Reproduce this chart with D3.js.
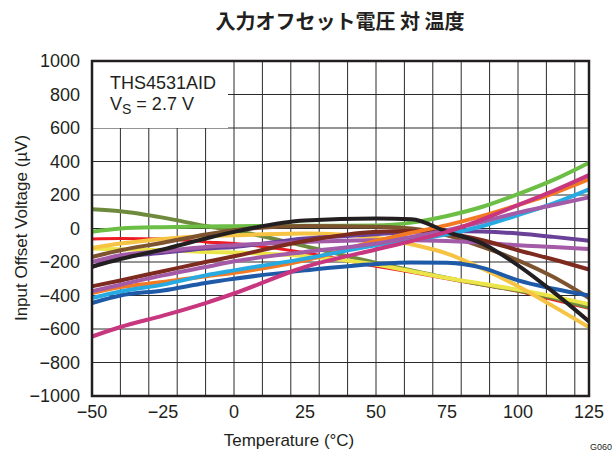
<!DOCTYPE html>
<html>
<head>
<meta charset="utf-8">
<script src="https://cdn.jsdelivr.net/npm/d3@7"></script>
<style>
  body { margin: 0; background: #fff; }
  svg text { font-family: 'Liberation Sans', Arial, sans-serif; fill: #231f20; }
</style>
</head>
<body>
<div id="chart"></div>
<script>
// temperature points (°C) shared by every curve
const temps = [-50, -40, -25, -10, 0, 25, 50, 62.5, 75, 87.5, 100, 112.5, 125];

// offset voltage (µV), one array per unit
const red        = [-62, -60, -62, -80, -90, -145, -225, -262, -300, -338, -375, -425, -477];
const olive      = [115, 103, 65, 15, -12, -105, -205, -250, -295, -335, -370, -415, -470];
const lightYellow = [-120, -124, -130, -140, -144, -165, -215, -255, -295, -330, -365, -405, -452];
const green      = [-20, 0, 8, 12, 14, 16, 18, 35, 75, 130, 205, 290, 393];
const golden     = [-116, -90, -62, -45, -40, -30, -55, -95, -150, -240, -345, -465, -590];
const brown      = [-170, -130, -85, -36, -10, 15, 10, 0, -40, -110, -190, -290, -415];
const darkPurple = [-230, -175, -145, -120, -110, -60, -35, -20, -15, -18, -30, -50, -73];
const violetFlat = [-200, -160, -135, -110, -100, -80, -70, -70, -75, -85, -100, -110, -122];
const maroon     = [-345, -310, -255, -200, -166, -75, -20, -15, -30, -70, -130, -185, -245];
const blue       = [-445, -400, -370, -325, -300, -250, -212, -203, -205, -235, -310, -360, -400];
const orange     = [-385, -350, -320, -285, -264, -190, -75, -25, 20, 75, 140, 210, 294];
const cyan       = [-415, -376, -335, -280, -250, -180, -100, -70, -35, 15, 80, 150, 234];
const violetRise = [-375, -336, -280, -230, -196, -140, -90, -50, -10, 40, 95, 140, 186];
const black      = [-228, -182, -125, -60, -20, 48, 60, 55, -20, -90, -220, -380, -555];
const magenta    = [-645, -588, -520, -445, -388, -230, -125, -75, -20, 55, 140, 225, 319];

const xTicks = [-50, -25, 0, 25, 50, 75, 100, 125];
const yTicks = [-1000, -800, -600, -400, -200, 0, 200, 400, 600, 800, 1000];

// draw order (first = bottom)
const series = [
  { values: red, color: '#ed1c24', w: 3 },
  { values: olive, color: '#6e8b3d', w: 4 },
  { values: lightYellow, color: '#ebe54a', w: 4 },
  { values: green, color: '#6cbe45', w: 4 },
  { values: golden, color: '#f6c343', w: 4 },
  { values: brown, color: '#7d5330', w: 4 },
  { values: darkPurple, color: '#6a4199', w: 4 },
  { values: violetFlat, color: '#a35ba8', w: 4 },
  { values: maroon, color: '#7d2a1f', w: 4 },
  { values: blue, color: '#1f5aa8', w: 4 },
  { values: orange, color: '#f37a22', w: 4 },
  { values: cyan, color: '#27aae1', w: 4 },
  { values: violetRise, color: '#a35ba8', w: 4 },
  { values: black, color: '#231f20', w: 4 },
  { values: magenta, color: '#c7367e', w: 4 }
];

const width = 612, height = 452;
const margin = { left: 92, right: 23, top: 61, bottom: 56 };

const svg = d3.select('#chart').append('svg')
  .attr('width', width)
  .attr('height', height);

const x = d3.scaleLinear().domain([-50, 125]).range([margin.left, width - margin.right]);
const y = d3.scaleLinear().domain([-1000, 1000]).range([height - margin.bottom, margin.top]);

// grid
const grid = svg.append('g').attr('stroke', '#2a2a2a').attr('stroke-width', 1);
d3.range(-40, 125, 10).forEach(t => {
  grid.append('line')
    .attr('x1', x(t)).attr('x2', x(t))
    .attr('y1', y(-1000)).attr('y2', y(1000));
});
d3.range(-800, 1000, 200).forEach(v => {
  grid.append('line')
    .attr('x1', x(-50)).attr('x2', x(125))
    .attr('y1', y(v)).attr('y2', y(v));
});

// legend box hides the grid behind it
svg.append('rect')
  .attr('x', x(-50)).attr('y', y(1000))
  .attr('width', 136).attr('height', 67)
  .attr('fill', '#fff');

// curves
const line = d3.line()
  .x((d, i) => x(temps[i]))
  .y(d => y(d))
  .curve(d3.curveMonotoneX);

svg.append('g')
  .selectAll('path')
  .data(series)
  .join('path')
  .attr('d', d => line(d.values))
  .attr('fill', 'none')
  .attr('stroke', d => d.color)
  .attr('stroke-width', d => d.w)
  .attr('stroke-linejoin', 'round');

// frame
svg.append('rect')
  .attr('x', x(-50)).attr('y', y(1000))
  .attr('width', x(125) - x(-50)).attr('height', y(-1000) - y(1000))
  .attr('fill', 'none')
  .attr('stroke', '#231f20')
  .attr('stroke-width', 2.5);

// tick labels
const fmt = d3.format('d');
svg.append('g')
  .selectAll('text')
  .data(yTicks)
  .join('text')
  .attr('x', 80)
  .attr('y', d => y(d) + 6)
  .attr('text-anchor', 'end')
  .attr('font-size', 18)
  .text(d => fmt(d));

svg.append('g')
  .selectAll('text')
  .data(xTicks)
  .join('text')
  .attr('x', d => x(d))
  .attr('y', 418)
  .attr('text-anchor', 'middle')
  .attr('font-size', 18)
  .text(d => fmt(d));

// axis titles
svg.append('text')
  .attr('x', 289).attr('y', 446)
  .attr('text-anchor', 'middle')
  .attr('font-size', 17)
  .text('Temperature (°C)');

svg.append('text')
  .attr('transform', 'translate(27,228) rotate(-90)')
  .attr('text-anchor', 'middle')
  .attr('font-size', 17)
  .text('Input Offset Voltage (µV)');

svg.append('text')
  .attr('x', 612).attr('y', 450)
  .attr('text-anchor', 'end')
  .attr('font-size', 9)
  .text('G060');

// title
svg.append('text')
  .attr('x', 340).attr('y', 29)
  .attr('text-anchor', 'middle')
  .attr('font-size', 20)
  .attr('font-weight', 'bold')
  .style('font-family', "'Noto Sans CJK JP', sans-serif")
  .text('入力オフセット電圧 対 温度');

// legend text
const leg = svg.append('g').attr('font-size', 18);
leg.append('text').attr('x', 110).attr('y', 89).text('THS4531AID');
const vs = leg.append('text').attr('x', 110).attr('y', 110);
vs.append('tspan').text('V');
vs.append('tspan').attr('dy', 4).attr('font-size', 14).text('S');
vs.append('tspan').attr('dy', -4).text(' = 2.7 V');
</script>
</body>
</html>
